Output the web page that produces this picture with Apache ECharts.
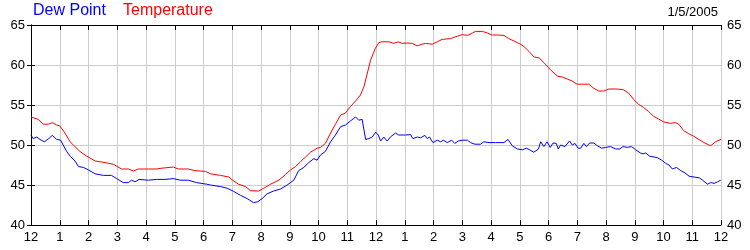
<!DOCTYPE html>
<html>
<head>
<meta charset="utf-8">
<script src="https://cdn.jsdelivr.net/npm/echarts@6/dist/echarts.min.js"></script>
<style>
html,body{margin:0;padding:0;background:#fff;}
#chart{width:750px;height:250px;}
</style>
</head>
<body>
<div id="chart"></div>
<script>
var hourLabels = ['12','1','2','3','4','5','6','7','8','9','10','11','12','1','2','3','4','5','6','7','8','9','10','11','12'];
var yTicks = [40, 45, 50, 55, 60, 65];
var dateText = '1/5/2005';

var tempHours = [0,0.25,0.43,0.6,0.74,0.89,1.0,1.18,1.36,1.53,1.7,1.94,2.23,2.58,2.86,3.15,3.39,3.56,3.73,4.08,4.37,4.55,4.95,5.13,5.47,5.7,6.07,6.24,6.59,6.88,7.05,7.22,7.46,7.63,7.92,8.1,8.33,8.62,8.85,9.03,9.2,9.37,9.55,9.72,9.95,10.07,10.24,10.42,10.59,10.77,10.94,11.11,11.29,11.46,11.58,11.7,11.81,11.98,12.1,12.2,12.45,12.62,12.77,12.91,13.08,13.26,13.43,13.6,13.72,13.96,14.13,14.3,14.59,14.83,15.0,15.18,15.35,15.46,15.7,15.87,16.05,16.22,16.45,16.62,16.8,16.97,17.15,17.32,17.5,17.67,17.84,18.07,18.31,18.48,18.65,18.82,18.99,19.16,19.4,19.57,19.75,19.92,20.1,20.38,20.61,20.78,20.96,21.13,21.3,21.48,21.65,21.83,22.0,22.24,22.41,22.53,22.7,22.88,23.05,23.23,23.41,23.64,23.81,24.0];
var tempValues = [53.5,53.2,52.6,52.6,52.8,52.5,52.4,51.5,50.4,49.8,49.2,48.6,48.0,47.8,47.6,47.0,47.0,46.75,47.0,47.0,47.0,47.1,47.25,47.0,47.0,46.8,46.7,46.4,46.2,46.0,45.5,45.1,44.8,44.3,44.25,44.6,45.1,45.6,46.3,46.9,47.3,47.9,48.5,49.1,49.6,49.7,50.2,51.5,52.6,53.75,54.0,54.8,55.5,56.25,57.3,59.0,60.6,62.1,62.8,62.9,62.9,62.7,62.9,62.7,62.75,62.7,62.4,62.6,62.7,62.6,62.9,63.2,63.3,63.6,63.8,63.7,64.0,64.2,64.2,64.0,63.75,63.75,63.7,63.3,63.0,62.7,62.3,61.7,61.0,60.9,60.3,59.4,58.6,58.5,58.25,58.0,57.6,57.6,57.6,57.1,56.75,56.75,57.0,57.0,56.9,56.5,55.7,55.1,54.7,54.2,53.6,53.25,52.9,52.7,52.8,52.6,51.8,51.4,51.1,50.7,50.3,49.9,50.4,50.7];

var dewHours = [0,0.08,0.2,0.31,0.46,0.6,0.74,0.89,1.03,1.12,1.24,1.36,1.53,1.65,1.82,1.99,2.23,2.52,2.8,2.98,3.21,3.39,3.5,3.62,3.76,4.08,4.37,4.66,4.95,5.19,5.47,5.76,6.11,6.24,6.59,6.82,7.05,7.29,7.52,7.74,7.88,8.04,8.21,8.44,8.68,8.91,9.14,9.31,9.49,9.66,9.84,9.95,10.07,10.24,10.42,10.59,10.77,10.94,11.11,11.29,11.4,11.52,11.58,11.64,11.75,11.87,11.99,12.08,12.16,12.27,12.39,12.5,12.56,12.68,12.79,13.03,13.2,13.28,13.44,13.55,13.7,13.78,13.86,13.98,14.13,14.25,14.34,14.48,14.63,14.74,14.86,15.02,15.18,15.29,15.44,15.64,15.75,15.93,16.16,16.45,16.59,16.74,16.92,17.09,17.23,17.34,17.49,17.65,17.73,17.84,17.95,18.0,18.06,18.16,18.27,18.34,18.42,18.57,18.73,18.83,18.92,19.03,19.12,19.23,19.32,19.43,19.58,19.7,19.85,19.99,20.16,20.34,20.48,20.59,20.74,20.89,21.03,21.2,21.29,21.38,21.52,21.67,21.79,21.94,22.08,22.19,22.31,22.45,22.6,22.75,22.89,23.06,23.24,23.36,23.53,23.64,23.76,23.88,23.99];
var dewValues = [51.2,50.8,51.0,50.7,50.4,50.75,51.2,50.7,50.6,50.0,49.2,48.6,48.0,47.3,47.2,46.9,46.4,46.2,46.2,45.8,45.3,45.3,45.6,45.4,45.7,45.6,45.7,45.7,45.8,45.6,45.6,45.3,45.1,45.0,44.8,44.6,44.2,43.7,43.3,42.8,42.9,43.3,43.9,44.25,44.5,45.0,45.6,46.8,47.2,47.8,48.3,48.1,48.75,49.2,50.4,51.25,52.3,52.5,53.0,53.5,53.1,53.2,51.9,50.7,50.8,51.0,51.6,51.25,50.5,51.0,50.5,51.0,50.9,51.5,51.25,51.25,51.3,50.8,51.0,50.9,51.2,50.8,51.0,50.3,50.6,50.4,50.6,50.3,50.6,50.2,50.5,50.6,50.6,50.3,50.1,50.1,50.4,50.3,50.3,50.3,50.7,49.9,49.5,49.4,49.6,49.4,49.1,49.5,50.4,49.8,50.4,50.3,49.7,50.25,50.2,49.5,50.0,49.8,50.5,50.0,50.2,49.6,49.6,50.2,49.8,50.25,50.25,49.9,49.6,49.7,49.8,49.5,49.5,49.8,49.7,49.8,49.4,49.0,48.9,49.0,48.6,48.5,48.4,48.1,47.7,47.5,47.0,47.2,46.8,46.5,46.1,46.0,45.9,45.6,45.1,45.3,45.2,45.4,45.6];

function pairs(xs, ys) {
  var out = [];
  for (var i = 0; i < xs.length; i++) out.push([xs[i], ys[i]]);
  return out;
}

var font = 'Liberation Sans, Arial, sans-serif';
var chart = echarts.init(document.getElementById('chart'), null, {renderer: 'canvas'});

var yAxisBase = function (pos, split) {
  return {
    type: 'value', position: pos,
    min: yTicks[0], max: yTicks[yTicks.length - 1], interval: 5,
    axisLine: {show: true, lineStyle: {color: '#000', width: 1}},
    axisTick: {show: true, inside: true, length: 4, lineStyle: {color: '#000'}},
    axisLabel: {show: true, color: '#000', fontSize: 13, fontFamily: font, margin: 6},
    splitLine: {show: split, lineStyle: {color: '#cccccc', width: 1}}
  };
};

chart.setOption({
  animation: false,
  backgroundColor: '#fff',
  grid: {left: 31, right: 29, top: 25, bottom: 25, containLabel: false},
  xAxis: [
    {
      type: 'value', position: 'bottom', min: 0, max: 24, interval: 1,
      axisLine: {show: true, lineStyle: {color: '#000', width: 1}},
      axisTick: {show: true, inside: true, length: 5, lineStyle: {color: '#000'}},
      axisLabel: {show: true, color: '#000', fontSize: 13, fontFamily: font, margin: 6,
        showMinLabel: true, showMaxLabel: true,
        formatter: function (v) { return hourLabels[Math.round(v)]; }},
      splitLine: {show: true, lineStyle: {color: '#cccccc', width: 1}}
    },
    {
      type: 'value', position: 'top', min: 0, max: 24, interval: 1,
      axisLine: {show: true, lineStyle: {color: '#000', width: 1}},
      axisTick: {show: true, inside: true, length: 5, lineStyle: {color: '#000'}},
      axisLabel: {show: false},
      splitLine: {show: false}
    }
  ],
  yAxis: [yAxisBase('left', true), yAxisBase('right', false)],
  graphic: [
    {type: 'text', left: 33, top: 3, style: {text: 'Dew Point', fill: '#0000ff', font: '16px ' + font}},
    {type: 'text', left: 123, top: 3, style: {text: 'Temperature', fill: '#ff0000', font: '16px ' + font}},
    {type: 'text', right: 32, top: 6, style: {text: dateText, fill: '#000', font: '13px ' + font}}
  ],
  series: [
    {
      name: 'Dew Point', type: 'line', xAxisIndex: 0, yAxisIndex: 0,
      data: pairs(dewHours, dewValues), showSymbol: false, symbol: 'none',
      lineStyle: {color: '#0000ff', width: 1}, z: 3
    },
    {
      name: 'Temperature', type: 'line', xAxisIndex: 0, yAxisIndex: 0,
      data: pairs(tempHours, tempValues), showSymbol: false, symbol: 'none',
      lineStyle: {color: '#ff0000', width: 1}, z: 3
    }
  ]
});
</script>
</body>
</html>
